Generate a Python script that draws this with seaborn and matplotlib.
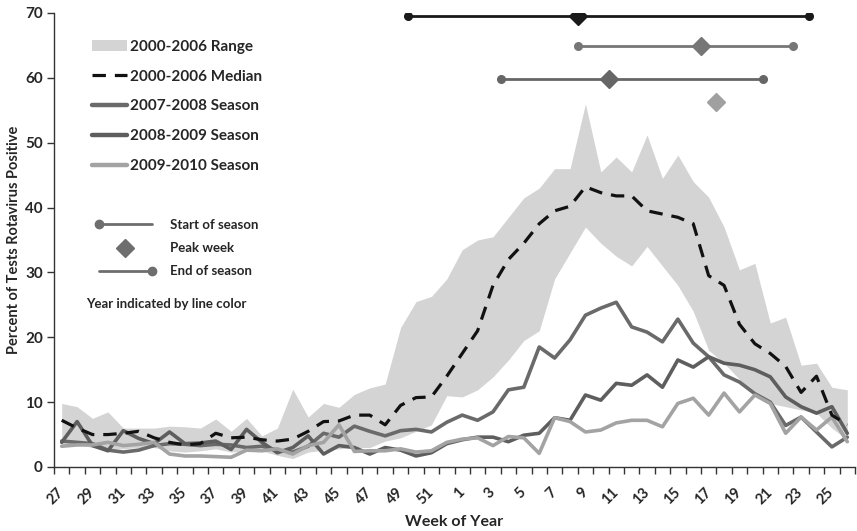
import numpy as np
import pandas as pd
import matplotlib
matplotlib.use("Agg")
import matplotlib.pyplot as plt
import seaborn as sns
from matplotlib.lines import Line2D
from matplotlib.patches import Patch
from matplotlib.legend_handler import HandlerBase

# ---------------- data ----------------
weeks = list(range(27, 53)) + list(range(1, 27))

range_low = [3.3, 3.5, 3.0, 2.8, 2.8, 3.0, 3.0, 2.5, 2.3, 2.5, 2.8, 2.3, 2.5, 2.5, 1.8, 1.3,
             2.3, 2.6, 2.8, 3.0, 3.0, 4.0, 4.5, 5.5, 6.5, 11.0, 10.8, 11.9, 13.9, 16.5, 19.5, 21.0,
             29.0, 33.0, 37.0, 34.5, 32.5, 31.0, 34.0, 31.0, 28.0, 24.0, 18.0, 16.0, 13.5, 11.0,
             9.8, 9.3, 8.8, 8.3, 6.0, 4.2]
range_high = [9.8, 9.3, 7.5, 8.5, 6.0, 6.0, 6.0, 6.3, 6.2, 6.0, 7.4, 5.5, 7.5, 4.8, 6.0, 12.0,
              7.7, 9.8, 9.2, 11.2, 12.2, 12.8, 21.5, 25.5, 26.3, 29.0, 33.5, 35.0, 35.5, 38.5, 41.5, 43.0,
              46.0, 46.0, 56.0, 45.5, 47.8, 45.5, 51.2, 44.5, 48.1, 44.0, 41.6, 37.0, 30.4, 31.4,
              22.2, 23.1, 15.7, 16.0, 12.3, 11.9]
median_0006 = [7.2, 6.0, 5.0, 5.0, 5.2, 5.5, 4.5, 3.8, 3.4, 3.6, 5.2, 4.5, 4.6, 4.2, 4.0, 4.3,
               5.5, 7.0, 7.1, 8.0, 8.0, 6.5, 9.5, 10.7, 10.8, 14.0, 17.5, 21.0, 28.0, 32.0, 34.5, 37.5,
               39.5, 40.2, 43.2, 42.3, 41.8, 41.8, 39.5, 39.0, 38.5, 37.5, 29.5, 28.0, 22.0, 19.0,
               17.5, 15.5, 11.5, 14.0, 8.0, 6.5]
season_0708 = [4.0, 3.8, 3.6, 2.6, 2.3, 2.6, 3.3, 3.6, 3.5, 3.3, 3.5, 3.4, 3.0, 3.2, 2.6, 2.3,
               3.2, 5.2, 4.6, 6.3, 5.5, 4.8, 5.6, 5.8, 5.4, 6.9, 8.0, 7.2, 8.5, 11.9, 12.3, 18.5,
               16.8, 19.6, 23.4, 24.5, 25.4, 21.6, 20.8, 19.3, 22.8, 19.1, 17.0, 14.2, 13.1, 11.3,
               10.0, 6.4, 7.7, 5.4, 3.1, 4.6]
season_0809 = [3.8, 7.0, 3.3, 2.5, 5.6, 4.4, 3.6, 5.4, 3.6, 3.7, 4.0, 2.7, 5.8, 3.8, 2.2, 3.0,
               4.8, 2.0, 3.3, 3.0, 2.0, 3.0, 2.6, 1.7, 2.2, 3.6, 4.2, 4.6, 4.6, 3.9, 4.9, 5.2,
               7.6, 7.2, 11.1, 10.3, 12.9, 12.6, 14.2, 12.3, 16.5, 15.4, 17.0, 16.0, 15.7, 15.0,
               13.9, 10.8, 9.3, 8.3, 9.3, 5.2]
season_0910 = [3.2, 3.4, 3.4, 3.8, 3.3, 3.5, 3.8, 2.0, 1.7, 1.7, 1.6, 1.5, 2.6, 2.5, 2.8, 2.0,
               3.3, 3.8, 6.5, 2.4, 2.5, 2.5, 2.8, 2.3, 2.5, 3.8, 4.3, 4.5, 3.3, 4.7, 4.5, 2.1,
               7.6, 7.0, 5.4, 5.7, 6.8, 7.2, 7.2, 6.2, 9.8, 10.6, 8.0, 11.4, 8.5, 11.1,
               9.8, 5.2, 7.7, 5.7, 7.7, 3.9]

# season summary bars (start / peak / end positions in week-index units, row level on y scale)
summary_names = ["2000-2006 Median", "2008-2009 Season", "2007-2008 Season", "2009-2010 Season"]
summary_start = [22.5, 33.5, 28.5, None]
summary_peak = [33.5, 41.5, 35.5, 42.5]
summary_end = [48.5, 47.5, 45.5, None]
summary_level = [69.5, 64.9, 59.9, 56.3]

tick_labels = [str(w) for w in weeks]

# ---------------- style ----------------
sns.set_theme(style="ticks")
plt.rcParams["font.family"] = ["Lato", "DejaVu Sans"]
plt.rcParams["font.weight"] = "bold"
plt.rcParams["axes.labelweight"] = "bold"

c_range = "#d4d4d4"
c_median = "#111111"
c_0708 = "#6a6a6a"
c_0809 = "#5e5e5e"
c_0910 = "#a3a3a3"
summary_colors = ["#1a1a1a", "#767676", "#666666", "#a0a0a0"]

fig = plt.figure(figsize=(8.57, 5.31), dpi=100)
ax = fig.add_axes([54 / 857, 64 / 531, 801 / 857, 454 / 531])

x = np.arange(len(weeks))
df = pd.DataFrame({
    "x": x, "low": range_low, "high": range_high, "median": median_0006,
    "s0708": season_0708, "s0809": season_0809, "s0910": season_0910,
})

ax.fill_between(df["x"], df["low"], df["high"], color=c_range, lw=0, zorder=1)
sns.lineplot(data=df, x="x", y="s0708", ax=ax, color=c_0708, lw=2.6, zorder=3)
sns.lineplot(data=df, x="x", y="s0809", ax=ax, color=c_0809, lw=2.6, zorder=3)
sns.lineplot(data=df, x="x", y="s0910", ax=ax, color=c_0910, lw=2.6, zorder=3)
sns.lineplot(data=df, x="x", y="median", ax=ax, color=c_median, lw=2.3,
             linestyle=(0, (4.2, 2.8)), zorder=4)

# summary bars
for st, pk, en, lv, col in zip(summary_start, summary_peak, summary_end, summary_level, summary_colors):
    if st is not None and en is not None:
        ax.plot([st, en], [lv, lv], color=col, lw=2.0, zorder=5)
        ax.plot([st, en], [lv, lv], ls="none", marker="o", ms=5.5, color=col, zorder=6)
    ax.plot([pk], [lv], ls="none", marker="D", ms=9, color=col, zorder=7)

# axes
ax.set_xlim(-0.5, 51.5)
ax.set_ylim(0, 70)
ax.set_yticks(range(0, 71, 10))
ax.set_xticks(np.arange(-0.5, 52, 1.0))
ax.set_xticklabels([])
ax.set_xticks(x[::2], minor=True)
ax.set_xticklabels(tick_labels[::2], minor=True, rotation=45, ha="right", va="center",
                   rotation_mode="anchor", fontsize=10.5, fontweight="bold")
ax.tick_params(axis="x", which="major", length=5, width=1, direction="out", color="#333333")
ax.tick_params(axis="x", which="minor", length=0, pad=17)
ax.tick_params(axis="y", which="major", length=5, width=1, direction="out", color="#333333",
               labelsize=11, pad=3)
for lab in ax.get_yticklabels():
    lab.set_fontweight("bold")
for s in ["top", "right"]:
    ax.spines[s].set_visible(False)
for s in ["left", "bottom"]:
    ax.spines[s].set_color("#333333")
    ax.spines[s].set_linewidth(1.0)

ax.set_xlabel("Week of Year", fontsize=11.5, fontweight="bold", labelpad=5)
ax.set_ylabel("Percent of Tests Rotavirus Positive", fontsize=10.5, fontweight="bold", labelpad=3)

# legend 1
h1 = [
    Patch(facecolor=c_range, edgecolor="none"),
    Line2D([], [], color=c_median, lw=2.3, linestyle=(0, (4.2, 2.8))),
    Line2D([], [], color=c_0708, lw=3.2),
    Line2D([], [], color=c_0809, lw=3.2),
    Line2D([], [], color=c_0910, lw=3.2),
]
l1 = ["2000-2006 Range", "2000-2006 Median", "2007-2008 Season", "2008-2009 Season", "2009-2010 Season"]
leg1 = ax.legend(h1, l1, loc="upper left", bbox_to_anchor=((92 - 54) / 801, (467 - 40) / 454),
                 frameon=False, handlelength=2.3, handletextpad=0.2,
                 labelspacing=1.03, borderpad=0, borderaxespad=0, prop={"weight": "bold", "size": 11})
ax.add_artist(leg1)


class SideMarkerHandler(HandlerBase):
    def __init__(self, side, color):
        super().__init__()
        self.side = side
        self.color = color

    def create_artists(self, legend, orig_handle, xdescent, ydescent, width, height, fontsize, trans):
        y = height / 2 - ydescent
        x0, x1 = -xdescent, -xdescent + width
        line = Line2D([x0, x1], [y, y], color=self.color, lw=2.0, transform=trans)
        mx = x0 if self.side == "start" else x1
        mk = Line2D([mx], [y], marker="o", ms=6, color=self.color, ls="none", transform=trans)
        return [line, mk]


class CenterMarkerHandler(HandlerBase):
    def __init__(self, color):
        super().__init__()
        self.color = color

    def create_artists(self, legend, orig_handle, xdescent, ydescent, width, height, fontsize, trans):
        y = height / 2 - ydescent
        mk = Line2D([-xdescent + width / 2], [y], marker="D", ms=9, color=self.color,
                    ls="none", transform=trans)
        return [mk]


hs = Line2D([], [])
hp = Line2D([], [])
he = Line2D([], [])
leg2 = ax.legend([hs, hp, he], ["Start of season", "Peak week", "End of season"],
                 handler_map={hs: SideMarkerHandler("start", "#6e6e6e"),
                              hp: CenterMarkerHandler("#6e6e6e"),
                              he: SideMarkerHandler("end", "#6e6e6e")},
                 loc="upper left", bbox_to_anchor=((99 - 54) / 801, (467 - 219) / 454),
                 frameon=False, handlelength=4.0, handletextpad=1.4, labelspacing=0.85,
                 borderpad=0, borderaxespad=0, prop={"weight": "bold", "size": 9.5})
ax.text((86 - 54) / 801, (467 - 304) / 454, "Year indicated by line color", transform=ax.transAxes,
        fontsize=9.5, fontweight="bold", va="center", ha="left")

fig.savefig("out.png", dpi=100)
